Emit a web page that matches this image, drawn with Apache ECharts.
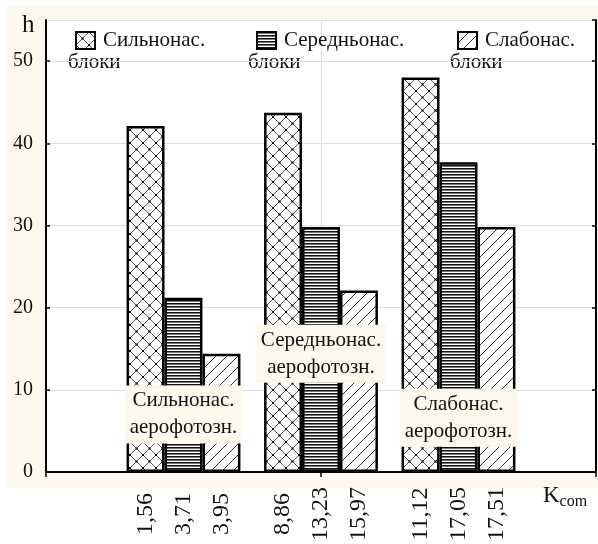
<!DOCTYPE html>
<html>
<head>
<meta charset="utf-8">
<script src="https://cdn.jsdelivr.net/npm/echarts@6/dist/echarts.min.js"></script>
<style>
  body { margin: 0; background: #fff; }
  #wrap { position: relative; width: 598px; height: 544px; }
  #cream { position: absolute; left: 7px; top: 5px; width: 591px; height: 483px; background: #fdf8ec; }
  #chart { position: absolute; left: 0; top: 0; width: 598px; height: 544px; }
</style>
</head>
<body>
<div id="wrap">
  <div id="cream"></div>
  <div id="chart"></div>
</div>
<script>
// значення висот h для трьох типів блоків
const groups = ['', 'Сильнонас. аерофотозн.', 'Середньонас. аерофотозн.', 'Слабонас. аерофотозн.', ''];
const seriesNames = ['Сильнонас.', 'Середньонас.', 'Слабонас.'];
const strongValues = [42.1, 43.7, 48.0];
const mediumValues = [21.2, 29.8, 37.7];
const weakValues = [14.4, 22.1, 29.8];
const kLabels = ['1,56', '3,71', '3,95', '8,86', '13,23', '15,97', '11,12', '17,05', '17,51'];
const zoneText = ['Сильнонас.\nаерофотозн.', 'Середньонас.\nаерофотозн.', 'Слабонас.\nаерофотозн.'];
const zoneH = [7.0, 14.4, 6.6];
const yTicks = [0, 10, 20, 30, 40, 50];

const serif = 'Liberation Serif';
const cream = '#fdf8ec';
const barPct = 0.276; // ширина стовпця відносно кроку категорії

function makePattern(kind) {
    const c = document.createElement('canvas');
    const ctx = c.getContext('2d');
    if (kind === 'cross') {
        c.width = c.height = 13;
        ctx.fillStyle = '#fff'; ctx.fillRect(0, 0, 13, 13);
        ctx.strokeStyle = '#555'; ctx.lineWidth = 1;
        ctx.beginPath();
        ctx.moveTo(0, 0); ctx.lineTo(13, 13);
        ctx.moveTo(13, 0); ctx.lineTo(0, 13);
        ctx.stroke();
        ctx.fillStyle = '#000';
        ctx.fillRect(5.5, 5.5, 2, 2);
        ctx.fillRect(0, 0, 1, 1); ctx.fillRect(12, 0, 1, 1);
        ctx.fillRect(0, 12, 1, 1); ctx.fillRect(12, 12, 1, 1);
    } else if (kind === 'horiz') {
        c.width = 4; c.height = 3;
        ctx.fillStyle = '#fff'; ctx.fillRect(0, 0, 4, 3);
        ctx.fillStyle = '#111'; ctx.fillRect(0, 0, 4, 1);
        ctx.fillStyle = '#777'; ctx.fillRect(0, 1, 4, 1);
    } else {
        c.width = c.height = 11;
        ctx.fillStyle = '#fff'; ctx.fillRect(0, 0, 11, 11);
        ctx.strokeStyle = '#333'; ctx.lineWidth = 1;
        ctx.beginPath();
        ctx.moveTo(-1, 12); ctx.lineTo(12, -1);
        ctx.moveTo(-1, 1); ctx.lineTo(1, -1);
        ctx.moveTo(10, 12); ctx.lineTo(12, 10);
        ctx.stroke();
    }
    return { image: c, repeat: 'repeat' };
}

const patterns = [makePattern('cross'), makePattern('horiz'), makePattern('diag')];
const valueSets = [strongValues, mediumValues, weakValues];

// центри стовпців у координатах осі (0..4)
const kPositions = [];
[1, 2, 3].forEach(g => [-1, 0, 1].forEach(o => kPositions.push(+(g + o * barPct).toFixed(4))));

const chart = echarts.init(document.getElementById('chart'));

const barSeries = seriesNames.map((name, i) => ({
    name: name,
    type: 'bar',
    xAxisIndex: 0,
    yAxisIndex: 0,
    barWidth: (barPct * 100) + '%',
    barGap: '0%',
    data: [null].concat(valueSets[i], [null]),
    itemStyle: { color: patterns[i], borderColor: '#000', borderWidth: 2.5 },
    emphasis: { disabled: true },
    z: 2
}));

const legends = [
    { left: 70, top: 25 },
    { left: 251, top: 25 },
    { left: 452, top: 25 }
].map((pos, i) => ({
    data: [seriesNames[i]],
    left: pos.left,
    top: pos.top,
    icon: 'rect',
    itemWidth: 19,
    itemHeight: 17,
    itemStyle: { borderColor: '#000', borderWidth: 2 },
    textStyle: { fontFamily: serif, fontSize: 21, color: '#111', padding: [0, 0, 0, 3] },
    selectedMode: false
}));

const option = {
    animation: false,
    backgroundColor: 'transparent',
    grid: { left: 46, right: 2, top: 20, bottom: 72, show: true, backgroundColor: '#fff', borderWidth: 0 },
    legend: legends,
    xAxis: [
        {
            type: 'category', data: groups, boundaryGap: false, position: 'bottom',
            axisLine: { lineStyle: { color: '#000', width: 2 } },
            axisTick: { show: false }, axisLabel: { show: false },
            splitLine: { show: true, lineStyle: { color: '#ddd', width: 1 } }
        },
        {
            type: 'category', data: groups, boundaryGap: false, position: 'top',
            axisLine: { lineStyle: { color: '#000', width: 2 } },
            axisTick: { inside: true, length: 5, lineStyle: { color: '#000', width: 1.5 } },
            axisLabel: { show: false }, splitLine: { show: false }
        },
        {
            type: 'value', min: 0, max: 4, position: 'bottom',
            axisLine: { show: false }, axisTick: { show: false }, splitLine: { show: false },
            axisLabel: {
                customValues: kPositions,
                rotate: 90, align: 'center', margin: 42,
                fontFamily: serif, fontSize: 24, color: '#111',
                formatter: function (v) {
                    let best = 0;
                    kPositions.forEach((p, i) => { if (Math.abs(p - v) < Math.abs(kPositions[best] - v)) best = i; });
                    return kLabels[best];
                }
            }
        }
    ],
    yAxis: [
        {
            type: 'value', min: 0, max: 55, interval: 10, position: 'left',
            axisLine: { show: true, lineStyle: { color: '#000', width: 2 } },
            axisTick: { show: true, inside: true, length: 4, lineStyle: { color: '#000', width: 1.5 } },
            axisLabel: {
                margin: 13, fontFamily: serif, fontSize: 20, color: '#111', showMaxLabel: false,
                formatter: v => (yTicks.indexOf(v) >= 0 ? String(v) : '')
            },
            splitLine: { show: true, lineStyle: { color: '#ddd', width: 1 } }
        },
        {
            type: 'value', min: 0, max: 55, interval: 10, position: 'right',
            axisLine: { show: true, lineStyle: { color: '#000', width: 2 } },
            axisTick: { show: true, inside: true, length: 4, lineStyle: { color: '#000', width: 1.5 } },
            axisLabel: { show: false }, splitLine: { show: false }
        }
    ],
    series: barSeries.concat([{
        name: 'zones',
        type: 'scatter',
        xAxisIndex: 0,
        yAxisIndex: 0,
        symbolSize: 0,
        silent: true,
        z: 5,
        itemStyle: { opacity: 1 },
        data: zoneH.map((h, i) => [i + 1, h]),
        label: {
            show: true, position: 'inside',
            formatter: p => zoneText[p.dataIndex],
            fontFamily: serif, fontSize: 21, color: '#111', lineHeight: 27,
            backgroundColor: cream, padding: [2, 5], align: 'center'
        }
    }]),
    graphic: [
        { type: 'text', left: 22, top: 13, style: { text: 'h', fontFamily: serif, fontSize: 25, fill: '#111' } },
        { type: 'text', left: 68, top: 52, style: { text: 'блоки', fontFamily: serif, fontSize: 21, fill: '#111' } },
        { type: 'text', left: 248, top: 52, style: { text: 'блоки', fontFamily: serif, fontSize: 21, fill: '#111' } },
        { type: 'text', left: 450, top: 52, style: { text: 'блоки', fontFamily: serif, fontSize: 21, fill: '#111' } },
        {
            type: 'text', left: 543, top: 484,
            style: {
                text: '{k|K}{s|com}',
                rich: {
                    k: { fontFamily: serif, fontSize: 23, fill: '#111' },
                    s: { fontFamily: serif, fontSize: 16, fill: '#111', padding: [12, 0, 0, 0] }
                }
            }
        }
    ]
};

chart.setOption(option);
</script>
</body>
</html>
